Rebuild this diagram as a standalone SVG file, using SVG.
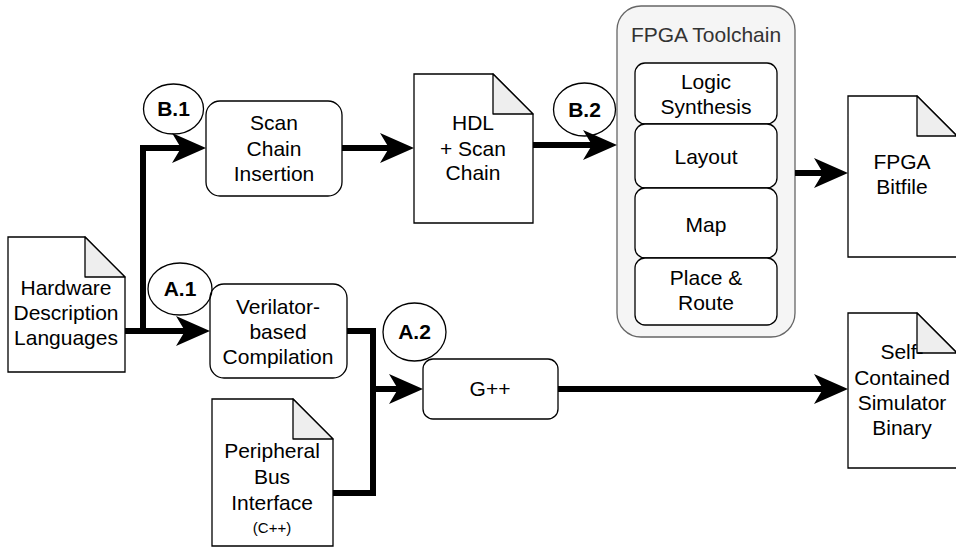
<svg xmlns="http://www.w3.org/2000/svg" width="956" height="548" viewBox="0 0 956 548">
<style>
text{font-family:"Liberation Sans",Arial,sans-serif;font-size:21px;fill:#000;text-anchor:middle}
.b{font-weight:bold}
.box{fill:#fff;stroke:#000;stroke-width:1.3}
.doc{fill:#fff;stroke:#000;stroke-width:1.3}
.fold{fill:#eeeeee;stroke:#000;stroke-width:1.3;stroke-linejoin:round}
.lbl{fill:none;stroke:#000;stroke-width:1.3}
.grp{fill:#f5f5f5;stroke:#666666;stroke-width:1.3}
.c{fill:none;stroke:#000;stroke-width:6}
</style>
<defs>
<marker id="ah" markerUnits="userSpaceOnUse" markerWidth="36" markerHeight="32" refX="9" refY="15" orient="auto" overflow="visible">
<path d="M0,0 L34,15 L0,30 L9,15 Z" fill="#000"/>
</marker>
</defs>
<g id="fpga-toolchain">
<rect class="grp" x="617" y="6" width="178" height="331" rx="24"/>
<text x="706" y="42" fill="#333" style="fill:#333">FPGA Toolchain</text>
</g>
<g id="logic-synthesis"><rect class="box" x="635" y="63" width="142" height="61" rx="10"/><text x="706" y="89">Logic</text><text x="706" y="114">Synthesis</text></g>
<g id="layout"><rect class="box" x="635" y="124" width="142" height="64" rx="10"/><text x="706" y="164">Layout</text></g>
<g id="map"><rect class="box" x="635" y="188" width="142" height="70" rx="10"/><text x="706" y="232">Map</text></g>
<g id="place-route"><rect class="box" x="635" y="258" width="142" height="67" rx="10"/><text x="706" y="285">Place &amp;</text><text x="706" y="310">Route</text></g>
<g id="hdl">
<path class="doc" d="M8,237 L85,237 L125,277 L125,372 L8,372 Z"/><path class="fold" d="M85,237 L85,277 L125,277 Z"/>
<text x="66" y="295">Hardware</text><text x="66" y="320">Description</text><text x="66" y="345">Languages</text>
</g>
<g id="scan-chain"><rect class="box" x="206" y="101" width="136" height="95" rx="14"/><text x="274" y="130">Scan</text><text x="274" y="156">Chain</text><text x="274" y="181">Insertion</text></g>
<g id="hdl-scan">
<path class="doc" d="M414,74 L493,74 L533,114 L533,223 L414,223 Z"/><path class="fold" d="M493,74 L493,114 L533,114 Z"/>
<text x="473" y="130">HDL</text><text x="473" y="156">+ Scan</text><text x="473" y="180">Chain</text>
</g>
<g id="bitfile">
<path class="doc" d="M848,96 L917,96 L957,136 L957,257 L848,257 Z"/><path class="fold" d="M917,96 L917,136 L957,136 Z"/>
<text x="902" y="169">FPGA</text><text x="902" y="194">Bitfile</text>
</g>
<g id="verilator"><rect class="box" x="210" y="284" width="137" height="94" rx="14"/><text x="278" y="314">Verilator-</text><text x="278" y="339">based</text><text x="278" y="364">Compilation</text></g>
<g id="gpp"><rect class="box" x="423" y="359" width="135" height="60" rx="10"/><text x="490" y="396">G++</text></g>
<g id="simulator">
<path class="doc" d="M848,313 L917,313 L957,353 L957,468 L848,468 Z"/><path class="fold" d="M917,313 L917,353 L957,353 Z"/>
<text x="902" y="359">Self-</text><text x="902" y="385">Contained</text><text x="902" y="410">Simulator</text><text x="902" y="435">Binary</text>
</g>
<g id="peripheral">
<path class="doc" d="M212,399 L293,399 L333,439 L333,546 L212,546 Z"/><path class="fold" d="M293,399 L293,439 L333,439 Z"/>
<text x="272" y="458">Peripheral</text><text x="272" y="484">Bus</text><text x="272" y="510">Interface</text><text x="272" y="533" style="font-size:15px">(C++)</text>
</g>
<g id="label-b1"><ellipse class="lbl" cx="173.5" cy="109" rx="30" ry="25"/><text class="b" x="173.5" y="116">B.1</text></g>
<g id="label-b2"><ellipse class="lbl" cx="584.5" cy="109.5" rx="31" ry="26.5"/><text class="b" x="584.5" y="117">B.2</text></g>
<g id="label-a1"><ellipse class="lbl" cx="180" cy="289" rx="32" ry="26"/><text class="b" x="180" y="296">A.1</text></g>
<g id="label-a2"><ellipse class="lbl" cx="414.5" cy="332" rx="31.5" ry="29"/><text class="b" x="414.5" y="339">A.2</text></g>
<g id="connectors">
<path class="c" d="M125,331 L185,331" marker-end="url(#ah)"/>
<path class="c" d="M143,331 L143,148 L181,148" marker-end="url(#ah)"/>
<path class="c" d="M342,148 L389,148" marker-end="url(#ah)"/>
<path class="c" d="M533,145 L592,145" marker-end="url(#ah)"/>
<path class="c" d="M795,173 L823,173" marker-end="url(#ah)"/>
<path class="c" d="M347,331 L373,331 L373,389 L398,389" marker-end="url(#ah)"/>
<path class="c" d="M333,493 L373,493 L373,389"/>
<path class="c" d="M558,389 L823,389" marker-end="url(#ah)"/>
</g>
</svg>
